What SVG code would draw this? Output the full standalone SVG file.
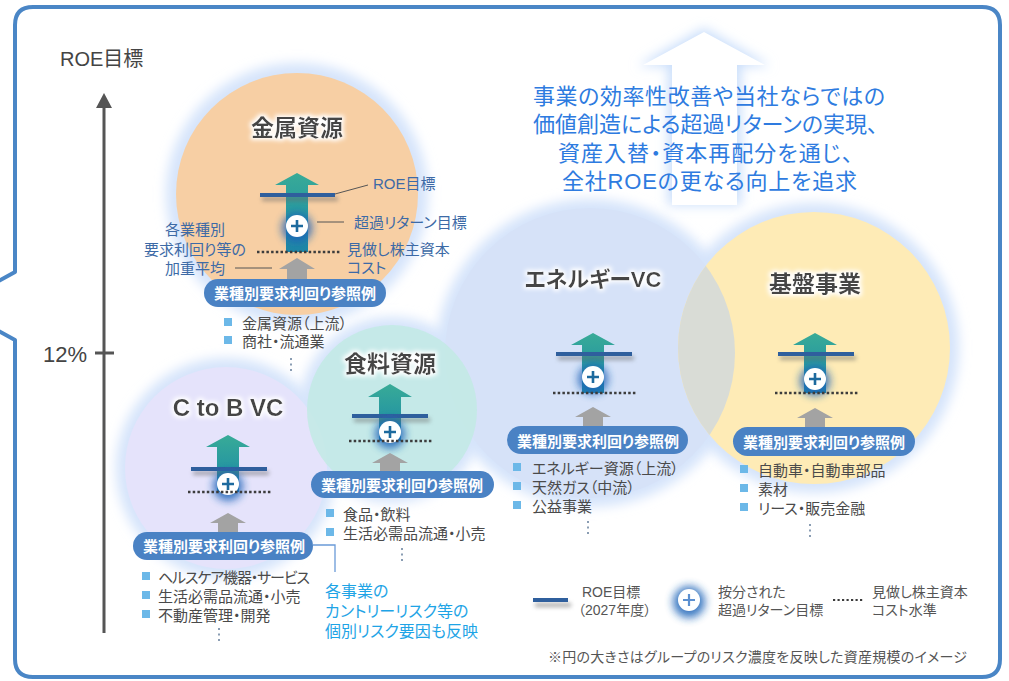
<svg xmlns="http://www.w3.org/2000/svg" width="1009" height="681" viewBox="0 0 1009 681">
<style>
text{font-family:"Liberation Sans","Noto Sans CJK JP",sans-serif;font-feature-settings:"palt";}
.title{font-size:23px;font-weight:bold;fill:#454545;text-anchor:middle;filter:url(#tg);}
.pilltxt{font-size:15px;font-weight:bold;fill:#fff;text-anchor:middle;}
.pill{fill:#4a82c4;}
.item{font-size:15px;fill:#4a4a4a;}
.sq{fill:#6cb8e8;}
.lead{font-size:15px;fill:#3d6aa6;}
.main{font-size:22px;fill:#2e7be0;}
.leg{font-size:14px;fill:#555;}
.roe{fill:#2f5f9d;}
.roesh{fill:#666;opacity:.55;filter:url(#bl2);}
.dots{stroke:#3c3c3c;stroke-width:2.5;stroke-dasharray:2.5 2.2;fill:none;}
.vdots{stroke:#8a9db3;stroke-width:2;stroke-dasharray:2 3.5;fill:none;}
.teal{fill:url(#tealg);}
.gray{fill:#a3a3a3;}
.pglow{fill:#1c64b8;opacity:.85;filter:url(#bl4);}
.pc{fill:#fff;}
.pp{stroke:#1d6a9e;stroke-width:2.6;fill:none;}
.halo{fill:#d5e4fb;filter:url(#bl6);}
.ldr{stroke:#555;stroke-width:1;fill:none;}
</style>
<defs>
<linearGradient id="tealg" x1="0" y1="0" x2="0" y2="1">
<stop offset="0" stop-color="#38ab97"/><stop offset="0.45" stop-color="#2a9b9f"/><stop offset="1" stop-color="#1e86a6"/>
</linearGradient>
<filter id="bl2" x="-20%" y="-200%" width="140%" height="500%"><feGaussianBlur stdDeviation="2"/></filter>
<filter id="bl4" x="-100%" y="-100%" width="300%" height="300%"><feGaussianBlur stdDeviation="4"/></filter>
<filter id="bl6" x="-30%" y="-30%" width="160%" height="160%"><feGaussianBlur stdDeviation="6"/></filter>
<filter id="tg" x="-20%" y="-50%" width="140%" height="200%">
<feMorphology in="SourceAlpha" operator="dilate" radius="1.5" result="d"/>
<feGaussianBlur in="d" stdDeviation="2" result="b"/>
<feFlood flood-color="#ffffff" result="f"/>
<feComposite in="f" in2="b" operator="in" result="g"/>
<feMerge><feMergeNode in="g"/><feMergeNode in="SourceGraphic"/></feMerge>
</filter>
<clipPath id="blueclip"><circle cx="590" cy="353" r="145"/></clipPath>
</defs>

<rect width="1009" height="681" fill="#fff"/>

<g id="frame">
<path d="M-5,283 L15,272 V25 Q15,7 33,7 H982 Q1000,7 1000,25 V659 Q1000,677 982,677 H33 Q15,677 15,659 V340 L-5,329" fill="none" stroke="#4a86c6" stroke-width="4" stroke-linejoin="round"/>
</g>

<g id="bigarrow">
<path d="M704,28 L770,66 L741,66 L741,205 L668,205 L668,66 L638,66 Z" fill="#c9defb" filter="url(#bl6)"/>
<path d="M704,32 L765,65 L737,65 L737,205 L672,205 L672,65 L643,65 Z" fill="#fff"/>
</g>

<g id="halos">
<circle cx="297" cy="194" r="131" class="halo"/>
<circle cx="226" cy="468" r="110" class="halo"/>
<circle cx="392" cy="410" r="93" class="halo"/>
<circle cx="590" cy="353" r="154" class="halo"/>
<circle cx="814" cy="348" r="145" class="halo"/>
</g>

<g id="circles">
<circle cx="590" cy="353" r="145" fill="#d6e2f8"/>
<circle cx="814" cy="348" r="136" fill="#feebb6"/>
<circle cx="814" cy="348" r="136" fill="#d9dcd6" clip-path="url(#blueclip)"/>
<circle cx="226" cy="468" r="101" fill="#e5e3fb"/>
<circle cx="392" cy="410" r="85" fill="#c2eae4" opacity="0.85"/>
<circle cx="297" cy="194" r="121" fill="#f7cfa4"/>
</g>

<g id="axis">
<line x1="104" y1="104" x2="104" y2="633" stroke="#555" stroke-width="3"/>
<polygon points="104,93 112,108 96,108" fill="#555"/>
<line x1="95" y1="353" x2="114" y2="353" stroke="#555" stroke-width="3"/>
<text x="60" y="66" style="font-size:20px;fill:#444">ROE目標</text>
<text x="87" y="362" style="font-size:22px;fill:#444;text-anchor:end">12%</text>
</g>

<g id="message">
<text class="main" x="533" y="104" textLength="352">事業の効率性改善や当社ならではの</text>
<text class="main" x="533" y="132" textLength="345">価値創造による超過リターンの実現、</text>
<text class="main" x="558" y="161" textLength="295">資産入替・資本再配分を通じ、</text>
<text class="main" x="562" y="189" textLength="295">全社ROEの更なる向上を追求</text>
</g>

<g id="node-kinzoku">
<text class="title" x="297" y="136">金属資源</text>
<path class="teal" d="M297,173 L319,185 L308,185 L308,252 L286,252 L286,185 L275,185 Z"/>
<rect class="roesh" x="262" y="197" width="76" height="4"/>
<rect class="roe" x="260" y="193" width="75" height="4"/>
<circle class="pglow" cx="297" cy="228" r="15"/>
<circle class="pc" cx="297" cy="226" r="11"/>
<path class="pp" d="M291,226 H303 M297,220 V232"/>
<line class="dots" x1="257" y1="252" x2="340" y2="252"/>
<path class="gray" d="M297,258 L315,269 L307,269 L307,280 L287,280 L287,269 L279,269 Z"/>
<rect class="pill" x="204" y="279" width="182" height="28" rx="14"/>
<text class="pilltxt" x="295" y="299">業種別要求利回り参照例</text>
<text class="lead" x="373" y="189">ROE目標</text>
<text class="lead" x="354" y="228">超過リターン目標</text>
<text class="lead" x="347" y="255">見做し株主資本</text>
<text class="lead" x="347" y="273">コスト</text>
<text class="lead" x="195" y="235" text-anchor="middle">各業種別</text>
<text class="lead" x="195" y="255" text-anchor="middle">要求利回り等の</text>
<text class="lead" x="195" y="274" text-anchor="middle">加重平均</text>
<rect class="sq" x="224" y="318" width="8" height="8"/>
<text class="item" x="242" y="329">金属資源（上流）</text>
<rect class="sq" x="224" y="336" width="8" height="8"/>
<text class="item" x="242" y="347">商社・流通業</text>
<line class="vdots" x1="291" y1="358" x2="291" y2="373"/>
</g>

<g id="node-ctob">
<text class="title" x="228" y="416" style="font-size:24px">C to B VC</text>
<path class="teal" d="M228,435 L250,447 L239,447 L239,492 L217,492 L217,447 L206,447 Z"/>
<rect class="roesh" x="193" y="471" width="76" height="4"/>
<rect class="roe" x="191" y="467" width="76" height="4"/>
<circle class="pglow" cx="228" cy="486" r="15"/>
<circle class="pc" cx="228" cy="484" r="11"/>
<path class="pp" d="M222,484 H234 M228,478 V490"/>
<line class="dots" x1="188" y1="492" x2="272" y2="492"/>
<path class="gray" d="M228,513 L246,523 L238,523 L238,532 L218,532 L218,523 L210,523 Z"/>
<rect class="pill" x="133" y="532" width="180" height="28" rx="14"/>
<text class="pilltxt" x="224" y="552">業種別要求利回り参照例</text>
<rect class="sq" x="142" y="572" width="8" height="8"/>
<text class="item" x="158" y="583" textLength="152">ヘルスケア機器・サービス</text>
<rect class="sq" x="142" y="591" width="8" height="8"/>
<text class="item" x="158" y="602">生活必需品流通・小売</text>
<rect class="sq" x="142" y="610" width="8" height="8"/>
<text class="item" x="158" y="621">不動産管理・開発</text>
<line class="vdots" x1="219" y1="628" x2="219" y2="643"/>
</g>

<g id="node-shokuryo">
<text class="title" x="390" y="372">食料資源</text>
<path class="teal" d="M390,384 L412,397 L401,397 L401,441 L379,441 L379,397 L368,397 Z"/>
<rect class="roesh" x="354" y="418" width="76" height="4"/>
<rect class="roe" x="352" y="414" width="76" height="4"/>
<circle class="pglow" cx="390" cy="434" r="15"/>
<circle class="pc" cx="390" cy="432" r="11"/>
<path class="pp" d="M384,432 H396 M390,426 V438"/>
<line class="dots" x1="349" y1="441" x2="432" y2="441"/>
<path class="gray" d="M390,453 L408,463 L400,463 L400,471 L380,471 L380,463 L372,463 Z"/>
<rect class="pill" x="311" y="471" width="183" height="27" rx="13.5"/>
<text class="pilltxt" x="402" y="491">業種別要求利回り参照例</text>
<rect class="sq" x="326" y="509" width="8" height="8"/>
<text class="item" x="343" y="520">食品・飲料</text>
<rect class="sq" x="326" y="528" width="8" height="8"/>
<text class="item" x="343" y="539">生活必需品流通・小売</text>
<line class="vdots" x1="402" y1="548" x2="402" y2="562"/>
</g>

<g id="node-energy">
<text class="title" x="593" y="287" style="font-size:22px">エネルギーVC</text>
<path class="teal" d="M593,333 L615,345 L604,345 L604,393 L582,393 L582,345 L571,345 Z"/>
<rect class="roesh" x="558" y="356" width="76" height="4"/>
<rect class="roe" x="556" y="352" width="76" height="4"/>
<circle class="pglow" cx="593" cy="379" r="15"/>
<circle class="pc" cx="593" cy="377" r="11"/>
<path class="pp" d="M587,377 H599 M593,371 V383"/>
<line class="dots" x1="553" y1="393" x2="636" y2="393"/>
<path class="gray" d="M593,407 L611,417 L603,417 L603,426 L583,426 L583,417 L575,417 Z"/>
<rect class="pill" x="507" y="426" width="181" height="28" rx="14"/>
<text class="pilltxt" x="598" y="447">業種別要求利回り参照例</text>
<rect class="sq" x="513" y="463" width="8" height="8"/>
<text class="item" x="532" y="474">エネルギー資源（上流）</text>
<rect class="sq" x="513" y="482" width="8" height="8"/>
<text class="item" x="532" y="493">天然ガス（中流）</text>
<rect class="sq" x="513" y="501" width="8" height="8"/>
<text class="item" x="532" y="512">公益事業</text>
<line class="vdots" x1="588" y1="521" x2="588" y2="535"/>
</g>

<g id="node-kiban">
<text class="title" x="815" y="292">基盤事業</text>
<path class="teal" d="M815,333 L837,345 L826,345 L826,393 L804,393 L804,345 L793,345 Z"/>
<rect class="roesh" x="780" y="356" width="76" height="4"/>
<rect class="roe" x="778" y="352" width="76" height="4"/>
<circle class="pglow" cx="815" cy="381" r="15"/>
<circle class="pc" cx="815" cy="379" r="11"/>
<path class="pp" d="M809,379 H821 M815,373 V385"/>
<line class="dots" x1="775" y1="393" x2="858" y2="393"/>
<path class="gray" d="M815,408 L833,418 L825,418 L825,427 L805,427 L805,418 L797,418 Z"/>
<rect class="pill" x="733" y="427" width="182" height="29" rx="14.5"/>
<text class="pilltxt" x="824" y="448">業種別要求利回り参照例</text>
<rect class="sq" x="740" y="465" width="8" height="8"/>
<text class="item" x="758" y="476">自動車・自動車部品</text>
<rect class="sq" x="740" y="484" width="8" height="8"/>
<text class="item" x="758" y="495">素材</text>
<rect class="sq" x="740" y="503" width="8" height="8"/>
<text class="item" x="758" y="514">リース・販売金融</text>
<line class="vdots" x1="810" y1="524" x2="810" y2="538"/>
</g>

<g id="connectors">
<path class="ldr" d="M335,194 L368,185"/>
<path class="ldr" d="M317,222 H344"/>
<path class="ldr" d="M235,268 H272"/>
<path d="M313,545 H335 V572" fill="none" stroke="#6a9ad8" stroke-width="1.3"/>
</g>

<g id="risknote">
<text x="325" y="597" style="font-size:16px;fill:#1ea4e6">各事業の</text>
<text x="325" y="617" style="font-size:16px;fill:#1ea4e6">カントリーリスク等の</text>
<text x="325" y="637" style="font-size:16px;fill:#1ea4e6">個別リスク要因も反映</text>
</g>

<g id="legend">
<rect class="roesh" x="535" y="603" width="36" height="4"/>
<rect class="roe" x="533" y="598" width="35" height="4"/>
<text class="leg" x="582" y="597">ROE目標</text>
<text class="leg" x="578" y="615">（2027年度）</text>
<circle class="pglow" cx="689" cy="602" r="16"/>
<circle class="pc" cx="689" cy="600" r="11"/>
<path d="M683,600 H695 M689,594 V606" stroke="#5b8fd0" stroke-width="2.2" fill="none"/>
<text class="leg" x="718" y="597">按分された</text>
<text class="leg" x="718" y="615">超過リターン目標</text>
<line class="dots" x1="833" y1="600" x2="864" y2="600" style="stroke-width:2.2;stroke-dasharray:2.2 2.3"/>
<text class="leg" x="872" y="597">見做し株主資本</text>
<text class="leg" x="872" y="615">コスト水準</text>
</g>

<g id="footnote">
<text class="leg" x="548" y="662" textLength="419">※円の大きさはグループのリスク濃度を反映した資産規模のイメージ</text>
</g>
</svg>
